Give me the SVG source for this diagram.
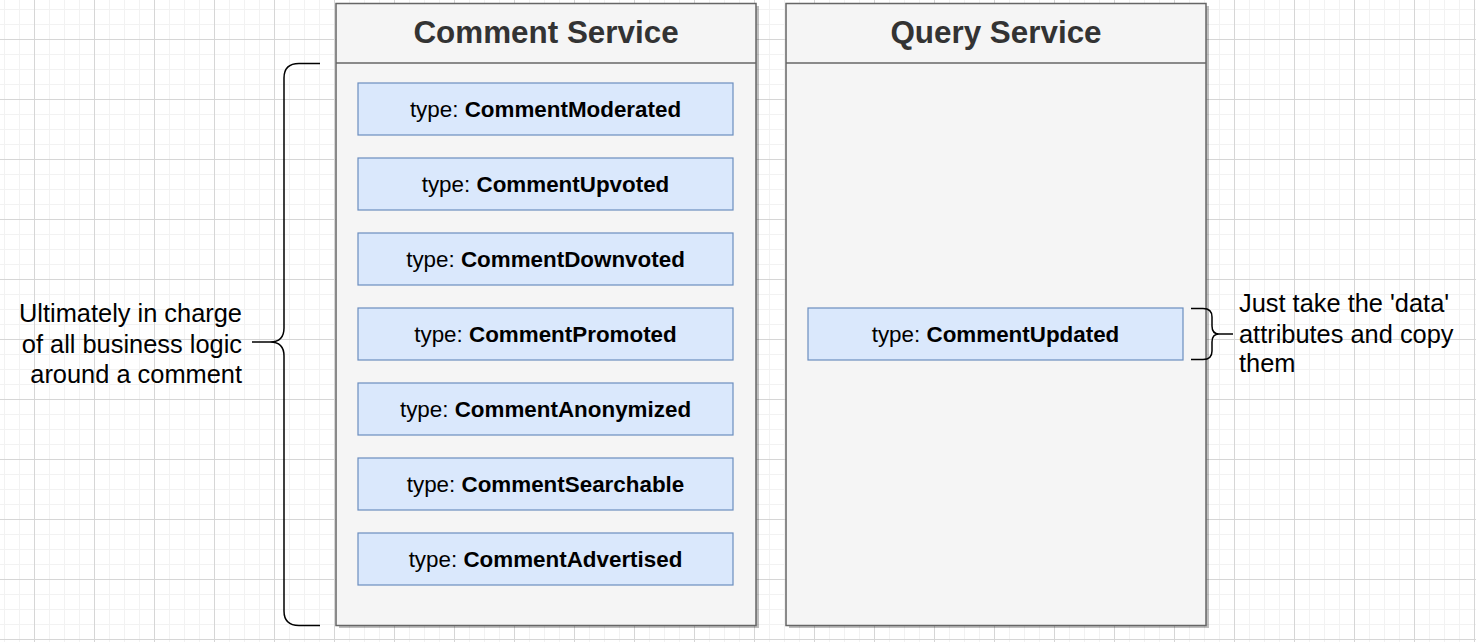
<svg xmlns="http://www.w3.org/2000/svg" width="1476" height="642" viewBox="0 0 1476 642">
  <style>
    .lane { fill: #f5f5f5; stroke: #666666; stroke-width: 1.5; }
    .shadow { fill: #000000; opacity: 0.25; }
    .title { font-family: "Liberation Sans", Arial, sans-serif; font-size: 31.4px; font-weight: bold; fill: #333333; text-anchor: middle; }
    .evt { fill: #dae8fc; stroke: #6c8ebf; stroke-width: 1.2; }
    .evt-text { font-family: "Liberation Sans", Arial, sans-serif; font-size: 22.4px; fill: #000000; text-anchor: middle; }
    .evt-text tspan.b { font-weight: bold; }
    .note { font-family: "Liberation Sans", Arial, sans-serif; font-size: 25.4px; fill: #000000; }
    .brace { fill: none; stroke: #000000; stroke-width: 1.5; }
  </style>
  <defs>
    <pattern id="grid" x="34" y="39" width="60" height="60" patternUnits="userSpaceOnUse">
      <rect x="0" y="0" width="60" height="60" fill="#ffffff"/>
      <rect x="15" y="0" width="1" height="60" fill="#f2f2f2"/>
      <rect x="30" y="0" width="1" height="60" fill="#f2f2f2"/>
      <rect x="45" y="0" width="1" height="60" fill="#f2f2f2"/>
      <rect x="0" y="15" width="60" height="1" fill="#f2f2f2"/>
      <rect x="0" y="30" width="60" height="1" fill="#f2f2f2"/>
      <rect x="0" y="45" width="60" height="1" fill="#f2f2f2"/>
      <rect x="0" y="0" width="1" height="60" fill="#d6d6d6"/>
      <rect x="0" y="0" width="60" height="1" fill="#d6d6d6"/>
    </pattern>
  </defs>
  <rect x="0" y="0" width="1476" height="642" fill="url(#grid)"/>

  <g id="comment-service">
    <rect class="shadow" x="339" y="6" width="420" height="622"/>
    <rect class="lane" x="336" y="3.5" width="420" height="622"/>
    <line x1="336" y1="63" x2="756" y2="63" stroke="#666666" stroke-width="1.5"/>
    <text class="title" x="546" y="43">Comment Service</text>
  </g>

  <g id="query-service">
    <rect class="shadow" x="789" y="6" width="420" height="622"/>
    <rect class="lane" x="786" y="3.5" width="420" height="622"/>
    <line x1="786" y1="63" x2="1206" y2="63" stroke="#666666" stroke-width="1.5"/>
    <text class="title" x="996" y="43">Query Service</text>
  </g>

  <g id="evt-moderated">
    <rect class="evt" x="358" y="83" width="375" height="52"/>
    <text class="evt-text" x="545.5" y="117">type: <tspan class="b">CommentModerated</tspan></text>
  </g>
  <g id="evt-upvoted">
    <rect class="evt" x="358" y="158" width="375" height="52"/>
    <text class="evt-text" x="545.5" y="192">type: <tspan class="b">CommentUpvoted</tspan></text>
  </g>
  <g id="evt-downvoted">
    <rect class="evt" x="358" y="233" width="375" height="52"/>
    <text class="evt-text" x="545.5" y="267">type: <tspan class="b">CommentDownvoted</tspan></text>
  </g>
  <g id="evt-promoted">
    <rect class="evt" x="358" y="308" width="375" height="52"/>
    <text class="evt-text" x="545.5" y="342">type: <tspan class="b">CommentPromoted</tspan></text>
  </g>
  <g id="evt-anonymized">
    <rect class="evt" x="358" y="383" width="375" height="52"/>
    <text class="evt-text" x="545.5" y="417">type: <tspan class="b">CommentAnonymized</tspan></text>
  </g>
  <g id="evt-searchable">
    <rect class="evt" x="358" y="458" width="375" height="52"/>
    <text class="evt-text" x="545.5" y="492">type: <tspan class="b">CommentSearchable</tspan></text>
  </g>
  <g id="evt-advertised">
    <rect class="evt" x="358" y="533" width="375" height="52"/>
    <text class="evt-text" x="545.5" y="567">type: <tspan class="b">CommentAdvertised</tspan></text>
  </g>

  <g id="evt-updated">
    <rect class="evt" x="808" y="308" width="375" height="52"/>
    <text class="evt-text" x="995.5" y="342">type: <tspan class="b">CommentUpdated</tspan></text>
  </g>

  <g id="left-note">
    <text class="note" text-anchor="end" x="242" y="322">Ultimately in charge</text>
    <text class="note" text-anchor="end" x="242" y="353">of all business logic</text>
    <text class="note" text-anchor="end" x="242" y="383">around a comment</text>
  </g>

  <g id="right-note">
    <text class="note" x="1239" y="312">Just take the 'data'</text>
    <text class="note" x="1239" y="343">attributes and copy</text>
    <text class="note" x="1239" y="372">them</text>
  </g>

  <g id="connectors">
    <path class="brace" d="M320,63.5 H299 Q284,63.5 284,78 V328 Q284,342 270,342 Q284,342 284,356 V611 Q284,625.5 299,625.5 H320"/>
    <line class="brace" x1="252" y1="342" x2="270" y2="342"/>
    <path class="brace" d="M1191,308.5 H1203 Q1212,308.5 1212,317 V326 Q1212,334 1219,334 Q1212,334 1212,342 V351 Q1212,359.5 1203,359.5 H1191"/>
    <line class="brace" x1="1219" y1="334" x2="1233" y2="334"/>
  </g>
</svg>
